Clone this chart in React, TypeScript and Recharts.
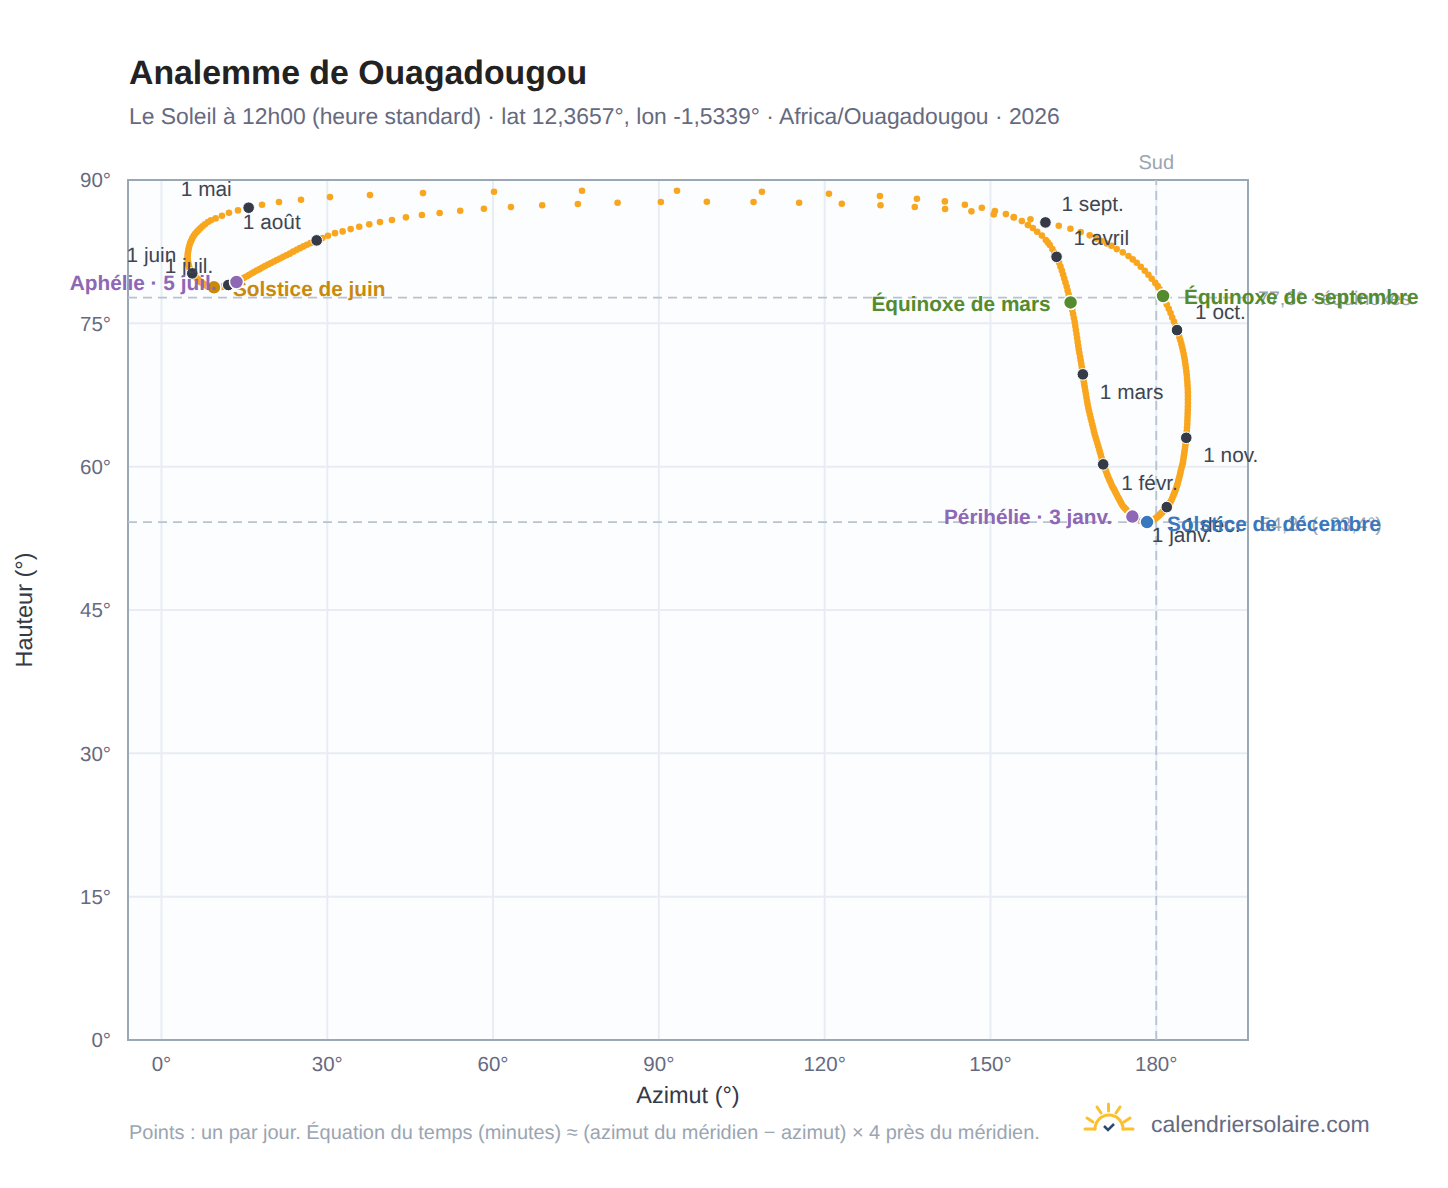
import React from 'react';
import {
  ScatterChart,
  Scatter,
  XAxis,
  YAxis,
  CartesianGrid,
  ReferenceLine,
  ReferenceArea,
} from 'recharts';

// Daily noon position of the sun, [azimuth, altitude], one list per month
const january = [[176.13,54.67],[175.91,54.73],[175.68,54.78],[175.41,54.94],[175.17,55.09],[174.94,55.25],[174.68,55.41],[174.47,55.56],[174.25,55.69],[174.03,55.83],[173.78,56.04],[173.6,56.24],[173.42,56.43],[173.24,56.63],[173.06,56.82],[172.88,57.03],[172.69,57.24],[172.51,57.45],[172.33,57.66],[172.15,57.81],[171.97,58.02],[171.79,58.28],[171.61,58.49],[171.46,58.7],[171.28,58.94],[171.14,59.15],[170.99,59.38],[170.85,59.59],[170.7,59.8],[170.6,60.01],[170.49,60.17]];
const february = [[170.4,60.24],[170.25,60.59],[170.11,60.9],[169.96,61.21],[169.8,61.53],[169.66,61.84],[169.49,62.16],[169.33,62.47],[169.17,62.78],[169.01,63.1],[168.84,63.41],[168.71,63.73],[168.57,64.09],[168.42,64.41],[168.28,64.77],[168.13,65.09],[167.99,65.45],[167.84,65.82],[167.71,66.13],[167.59,66.5],[167.48,66.87],[167.37,67.23],[167.27,67.6],[167.16,67.96],[167.05,68.33],[166.96,68.64],[166.87,68.96],[166.8,69.32]];
const march = [[166.72,69.66],[166.65,70],[166.54,70.37],[166.44,70.74],[166.33,71.1],[166.22,71.47],[166.09,71.89],[165.98,72.25],[165.88,72.62],[165.78,73.04],[165.68,73.46],[165.57,73.88],[165.46,74.3],[165.35,74.71],[165.24,75.13],[165.1,75.55],[164.95,75.97],[164.81,76.39],[164.66,76.81],[164.5,77.19],[164.33,77.59],[164.15,78.01],[163.97,78.43],[163.79,78.85],[163.57,79.27],[163.35,79.69],[163.14,80.1],[162.92,80.52],[162.67,80.94],[162.41,81.36],[162.2,81.62]];
const april = [[161.96,81.96],[161.56,82.41],[161.2,82.77],[160.75,83.19],[160.38,83.47],[160.02,83.71],[159.3,84.18],[158.45,84.58],[157.67,84.97],[156.77,85.28],[155.68,85.7],[154.23,86.07],[152.79,86.43],[150.8,86.75],[148.44,87.09],[145.37,87.41],[141.75,87.76],[136.69,88.03],[130,88.32],[120.77,88.56],[108.65,88.77],[93.28,88.87],[76.09,88.87],[60.17,88.77],[47.32,88.63],[37.72,88.42],[30.49,88.21],[25.24,87.93],[21.26,87.69],[18.19,87.41]];
const may = [[15.77,87.1],[13.84,86.82],[12.21,86.57],[10.94,86.26],[9.8,85.98],[8.95,85.78],[8.41,85.6],[7.87,85.36],[7.42,85.15],[7.02,84.94],[6.66,84.73],[6.37,84.55],[6.06,84.34],[5.81,84.13],[5.57,83.89],[5.37,83.64],[5.19,83.4],[5.05,83.14],[4.94,82.88],[4.85,82.61],[4.78,82.37],[4.74,82.14],[4.72,81.93],[4.74,81.72],[4.78,81.51],[4.83,81.3],[4.9,81.1],[5.01,80.89],[5.12,80.68],[5.25,80.47],[5.39,80.34]];
const june = [[5.57,80.23],[5.77,80.1],[5.97,79.96],[6.17,79.84],[6.37,79.72],[6.57,79.61],[6.77,79.5],[6.96,79.39],[7.16,79.3],[7.36,79.21],[7.56,79.13],[7.76,79.06],[7.96,79],[8.16,78.93],[8.36,78.89],[8.56,78.85],[8.76,78.82],[8.95,78.8],[9.14,78.78],[9.32,78.77],[9.5,78.77],[9.77,78.77],[10.04,78.78],[10.31,78.79],[10.58,78.8],[10.85,78.82],[11.13,78.85],[11.4,78.88],[11.63,78.93],[11.85,78.97]];
const july = [[12.08,79.01],[12.39,79.08],[12.75,79.15],[13.12,79.23],[13.57,79.33],[14.02,79.47],[14.47,79.61],[14.92,79.76],[15.37,79.9],[15.83,80.05],[16.28,80.21],[16.73,80.36],[17.22,80.52],[17.73,80.67],[18.23,80.83],[18.74,80.99],[19.27,81.15],[19.81,81.31],[20.35,81.47],[20.89,81.63],[21.44,81.79],[22.02,81.96],[22.61,82.12],[23.21,82.29],[23.82,82.5],[24.46,82.69],[25.05,82.87],[25.69,83.05],[26.32,83.22],[26.95,83.39],[27.59,83.56]];
const august = [[28.08,83.68],[29.12,83.92],[30.12,84.16],[31.39,84.44],[32.78,84.62],[34.23,84.86],[35.78,85.1],[37.59,85.36],[39.53,85.6],[41.7,85.81],[44.23,86.09],[47.12,86.33],[50.33,86.54],[54.05,86.78],[58.34,86.99],[63.22,87.17],[68.89,87.35],[75.34,87.49],[82.53,87.62],[90.36,87.7],[98.68,87.73],[107.13,87.7],[115.38,87.62],[123.1,87.52],[130.1,87.35],[136.31,87.17],[141.79,86.96],[146.56,86.72],[150.6,86.4],[154.22,86.12],[157.24,85.88]];
const september = [[159.95,85.56],[162.36,85.21],[164.47,84.9],[166.33,84.55],[167.96,84.21],[169.14,83.87],[170.13,83.61],[171.04,83.35],[171.89,83.12],[172.85,82.77],[173.94,82.43],[174.97,82.04],[175.75,81.69],[176.47,81.34],[177.19,80.92],[177.92,80.5],[178.58,80.08],[179.18,79.66],[179.82,79.23],[180.27,78.91],[180.63,78.57],[180.96,78.2],[181.23,77.86],[181.57,77.38],[181.9,76.96],[182.26,76.52],[182.59,76.07],[182.89,75.6],[183.2,75.18],[183.49,74.73]];
const october = [[183.76,74.29],[183.98,73.93],[184.18,73.56],[184.36,73.22],[184.54,72.85],[184.69,72.52],[184.83,72.15],[184.96,71.78],[185.08,71.42],[185.19,71.05],[185.28,70.69],[185.37,70.32],[185.45,69.95],[185.52,69.59],[185.57,69.22],[185.63,68.85],[185.66,68.49],[185.7,68.12],[185.72,67.75],[185.73,67.39],[185.73,67.02],[185.73,66.66],[185.72,66.29],[185.7,65.92],[185.68,65.56],[185.66,65.19],[185.64,64.82],[185.61,64.46],[185.57,64.09],[185.52,63.72],[185.48,63.36]];
const november = [[185.43,63.02],[185.37,62.67],[185.3,62.36],[185.23,62.05],[185.16,61.76],[185.08,61.47],[185.01,61.19],[184.94,60.9],[184.87,60.62],[184.8,60.36],[184.67,60.09],[184.54,59.81],[184.43,59.54],[184.33,59.27],[184.21,59],[184.1,58.74],[183.99,58.49],[183.89,58.26],[183.76,58.02],[183.63,57.79],[183.49,57.57],[183.35,57.35],[183.2,57.13],[183.06,56.92],[182.91,56.71],[182.75,56.51],[182.59,56.33],[182.42,56.16],[182.26,56],[182.08,55.88]];
const december = [[181.9,55.77],[181.72,55.67],[181.54,55.54],[181.36,55.42],[181.18,55.3],[181,55.19],[180.82,55.08],[180.63,54.98],[180.45,54.87],[180.27,54.78],[180.09,54.68],[179.91,54.6],[179.73,54.52],[179.55,54.44],[179.37,54.37],[179.18,54.31],[179,54.26],[178.82,54.23],[178.64,54.21],[178.46,54.2],[178.33,54.2],[178.13,54.2],[177.95,54.2],[177.75,54.21],[177.56,54.23],[177.37,54.26],[177.17,54.31],[176.98,54.37],[176.78,54.43],[176.56,54.5],[176.34,54.58]];

const months = [january, february, march, april, may, june, july, august, september, october, november, december];
const monthLabels = ['1 janv.', '1 févr.', '1 mars', '1 avril', '1 mai', '1 juin', '1 juil.', '1 août', '1 sept.', '1 oct.', '1 nov.', '1 déc.'];

const specialNames = ['Équinoxe de mars', 'Équinoxe de septembre', 'Solstice de juin', 'Solstice de décembre', 'Aphélie · 5 juil.', 'Périhélie · 3 janv.'];
const specialAzimuth = [164.5, 181.23, 9.5, 178.33, 13.57, 175.68];
const specialAltitude = [77.19, 77.86, 78.77, 54.2, 79.33, 54.78];

const xTicks = [0, 30, 60, 90, 120, 150, 180];
const yTicks = [0, 15, 30, 45, 60, 75, 90];
const xDomain = [-6.06, 196.6];
const equinoxAltitude = 77.7;
const decemberAltitude = 54.2;

// offsets of the text from its dot: dx, dy, anchor
const monthOffsets: any = {
  '1 janv.': [17, 18, 'start'], '1 févr.': [18, 19, 'start'], '1 mars': [17, 18, 'start'],
  '1 avril': [17, -18, 'start'], '1 mai': [-17, -18, 'end'], '1 juin': [-16, -18, 'end'],
  '1 juil.': [-15, -19, 'end'], '1 août': [-16, -18, 'end'], '1 sept.': [16, -18, 'start'],
  '1 oct.': [18, -18, 'start'], '1 nov.': [17, 18, 'start'], '1 déc.': [17, 18, 'start'],
};
const specialStyles: any = {
  'Équinoxe de mars': [-20, 2, 'end', '#558b2f'],
  'Équinoxe de septembre': [21, 1, 'start', '#558b2f'],
  'Solstice de juin': [19, 2, 'start', '#c98a0c'],
  'Solstice de décembre': [20, 2, 'start', '#3a78bd'],
  'Aphélie · 5 juil.': [-20, 2, 'end', '#8e67b5'],
  'Périhélie · 3 janv.': [-20, 1, 'end', '#8e67b5'],
};

const dailyPoints = months.flat().map(([x, y]) => ({ x, y }));
const monthPoints = months.map((m, i) => ({ x: m[0][0], y: m[0][1], name: monthLabels[i] }));
const specialPoints = specialNames.map((name, i) => ({ x: specialAzimuth[i], y: specialAltitude[i], name }));

const FONT = '"Liberation Sans", Arial, sans-serif';

const DayDot = ({ cx, cy }: any) => <circle cx={cx} cy={cy} r={3.3} fill="#f9a61f" />;

const MonthDot = ({ cx, cy, payload }: any) => {
  const [dx, dy, anchor] = monthOffsets[payload.name];
  return (
    <g>
      <circle cx={cx} cy={cy} r={5.8} fill="#343a46" stroke="#fff" strokeWidth={1} />
      <text x={cx + dx} y={cy + dy} textAnchor={anchor} dominantBaseline="central" fontSize={20.8} fill="#3f4652" fontFamily={FONT}>
        {payload.name}
      </text>
    </g>
  );
};

const SpecialDot = ({ cx, cy, payload }: any) => {
  const [dx, dy, anchor, color] = specialStyles[payload.name];
  return (
    <g>
      <circle cx={cx} cy={cy} r={7} fill={color} stroke="#fff" strokeWidth={1.5} />
      <text x={cx + dx} y={cy + dy} textAnchor={anchor} dominantBaseline="central" fontSize={20.8} fontWeight="bold" fill={color} fontFamily={FONT}>
        {payload.name}
      </text>
    </g>
  );
};

const SideLabel = ({ viewBox, value, dx, dy, color }: any) => (
  <text x={viewBox.x + viewBox.width + dx} y={viewBox.y + dy} dominantBaseline="central" fontSize={19.6} fill={color} fontFamily={FONT}>
    {value}
  </text>
);

const SunLogo = () => (
  <svg width={56} height={32} style={{ position: 'absolute', left: 1081, top: 1101 }} viewBox="1081 1101 56 32">
    <g fill="none" stroke="#fbc02d" strokeWidth={3} strokeLinecap="round">
      <path d="M1085 1129 H1095 M1123 1129 H1133" />
      <path d="M1095 1129 A14 14 0 0 1 1123 1129" />
      <path d="M1108.5 1104 V1111 M1097 1107 L1101 1113 M1120 1107 L1116 1113 M1087 1118 L1093 1122 M1130 1118 L1124 1122" />
    </g>
    <path d="M1104 1126 L1108 1130 L1114 1124" fill="none" stroke="#2b4a6f" strokeWidth={2.5} />
  </svg>
);

const App = () => {
  return (
    <div style={{ position: 'absolute', left: 0, top: 0, width: 1448, height: 1188, background: '#fff', fontFamily: FONT, textRendering: 'geometricPrecision' }}>
      <div style={{ position: 'absolute', left: 129, top: 54, fontSize: 33.8, fontWeight: 'bold', color: '#222', whiteSpace: 'nowrap' }}>
        Analemme de Ouagadougou
      </div>
      <div style={{ position: 'absolute', left: 129, top: 103, fontSize: 22.87, color: '#666a7f', whiteSpace: 'nowrap' }}>
        Le Soleil à 12h00 (heure standard) · lat 12,3657°, lon -1,5339° · Africa/Ouagadougou · 2026
      </div>
      <ScatterChart
        width={1448}
        height={1188}
        margin={{ top: 180, right: 200, bottom: 88, left: 68 }}
        style={{ position: 'absolute', left: 0, top: 0 }}
      >
        <CartesianGrid fill="#fbfdff" stroke="#e8edf3" strokeWidth={2} horizontalValues={yTicks} verticalValues={xTicks} />
        <XAxis
          type="number"
          dataKey="x"
          domain={xDomain}
          ticks={xTicks}
          tickFormatter={(v) => `${v}°`}
          height={60}
          tick={{ fontSize: 20.5, fill: '#666a7f', fontFamily: FONT }}
          tickLine={false}
          axisLine={false}
          tickMargin={10}
          label={{ value: 'Azimut (°)', position: 'insideBottom', offset: -3, fontSize: 23.5, fill: '#343a46', fontFamily: FONT }}
        />
        <YAxis
          type="number"
          dataKey="y"
          domain={[0, 90]}
          ticks={yTicks}
          tickFormatter={(v) => `${v}°`}
          width={60}
          tick={{ fontSize: 20.5, fill: '#666a7f', fontFamily: FONT }}
          tickLine={false}
          axisLine={false}
          tickMargin={11}
          label={{ value: 'Hauteur (°)', angle: -90, position: 'insideLeft', offset: -44, fontSize: 23.5, fill: '#343a46', fontFamily: FONT, style: { textAnchor: 'middle' } }}
        />
        <ReferenceArea x1={xDomain[0]} x2={xDomain[1]} y1={0} y2={90} fill="none" stroke="#9aa7b5" strokeWidth={2} ifOverflow="visible" />
        <ReferenceLine
          y={equinoxAltitude}
          stroke="#b7c4d0"
          strokeWidth={1.8}
          strokeDasharray="9 6"
          label={<SideLabel value="77,6° · équinoxes" dx={10} dy={1} color="#9aa5b1" />}
        />
        <ReferenceLine
          y={decemberAltitude}
          stroke="#b7c4d0"
          strokeWidth={1.8}
          strokeDasharray="9 6"
          label={<SideLabel value="54,2° (−23,4°)" dx={12} dy={3} color="#9aa5b1" />}
        />
        <ReferenceLine
          x={180}
          stroke="#b7c4d0"
          strokeWidth={1.8}
          strokeDasharray="9 6"
          label={{ value: 'Sud', position: 'top', offset: 11, fontSize: 20, fill: '#9aa5b1', fontFamily: FONT }}
        />
        <Scatter data={dailyPoints} shape={<DayDot />} isAnimationActive={false} />
        <Scatter data={monthPoints} shape={<MonthDot />} isAnimationActive={false} />
        <Scatter data={specialPoints} shape={<SpecialDot />} isAnimationActive={false} />
      </ScatterChart>
      <div style={{ position: 'absolute', left: 129, top: 1122, fontSize: 19.95, color: '#9aa5b1', whiteSpace: 'nowrap' }}>
        Points : un par jour. Équation du temps (minutes) ≈ (azimut du méridien − azimut) × 4 près du méridien.
      </div>
      <SunLogo />
      <div style={{ position: 'absolute', left: 1151, top: 1111, fontSize: 23, color: '#666a7f', whiteSpace: 'nowrap' }}>
        calendriersolaire.com
      </div>
    </div>
  );
};

export default App;
